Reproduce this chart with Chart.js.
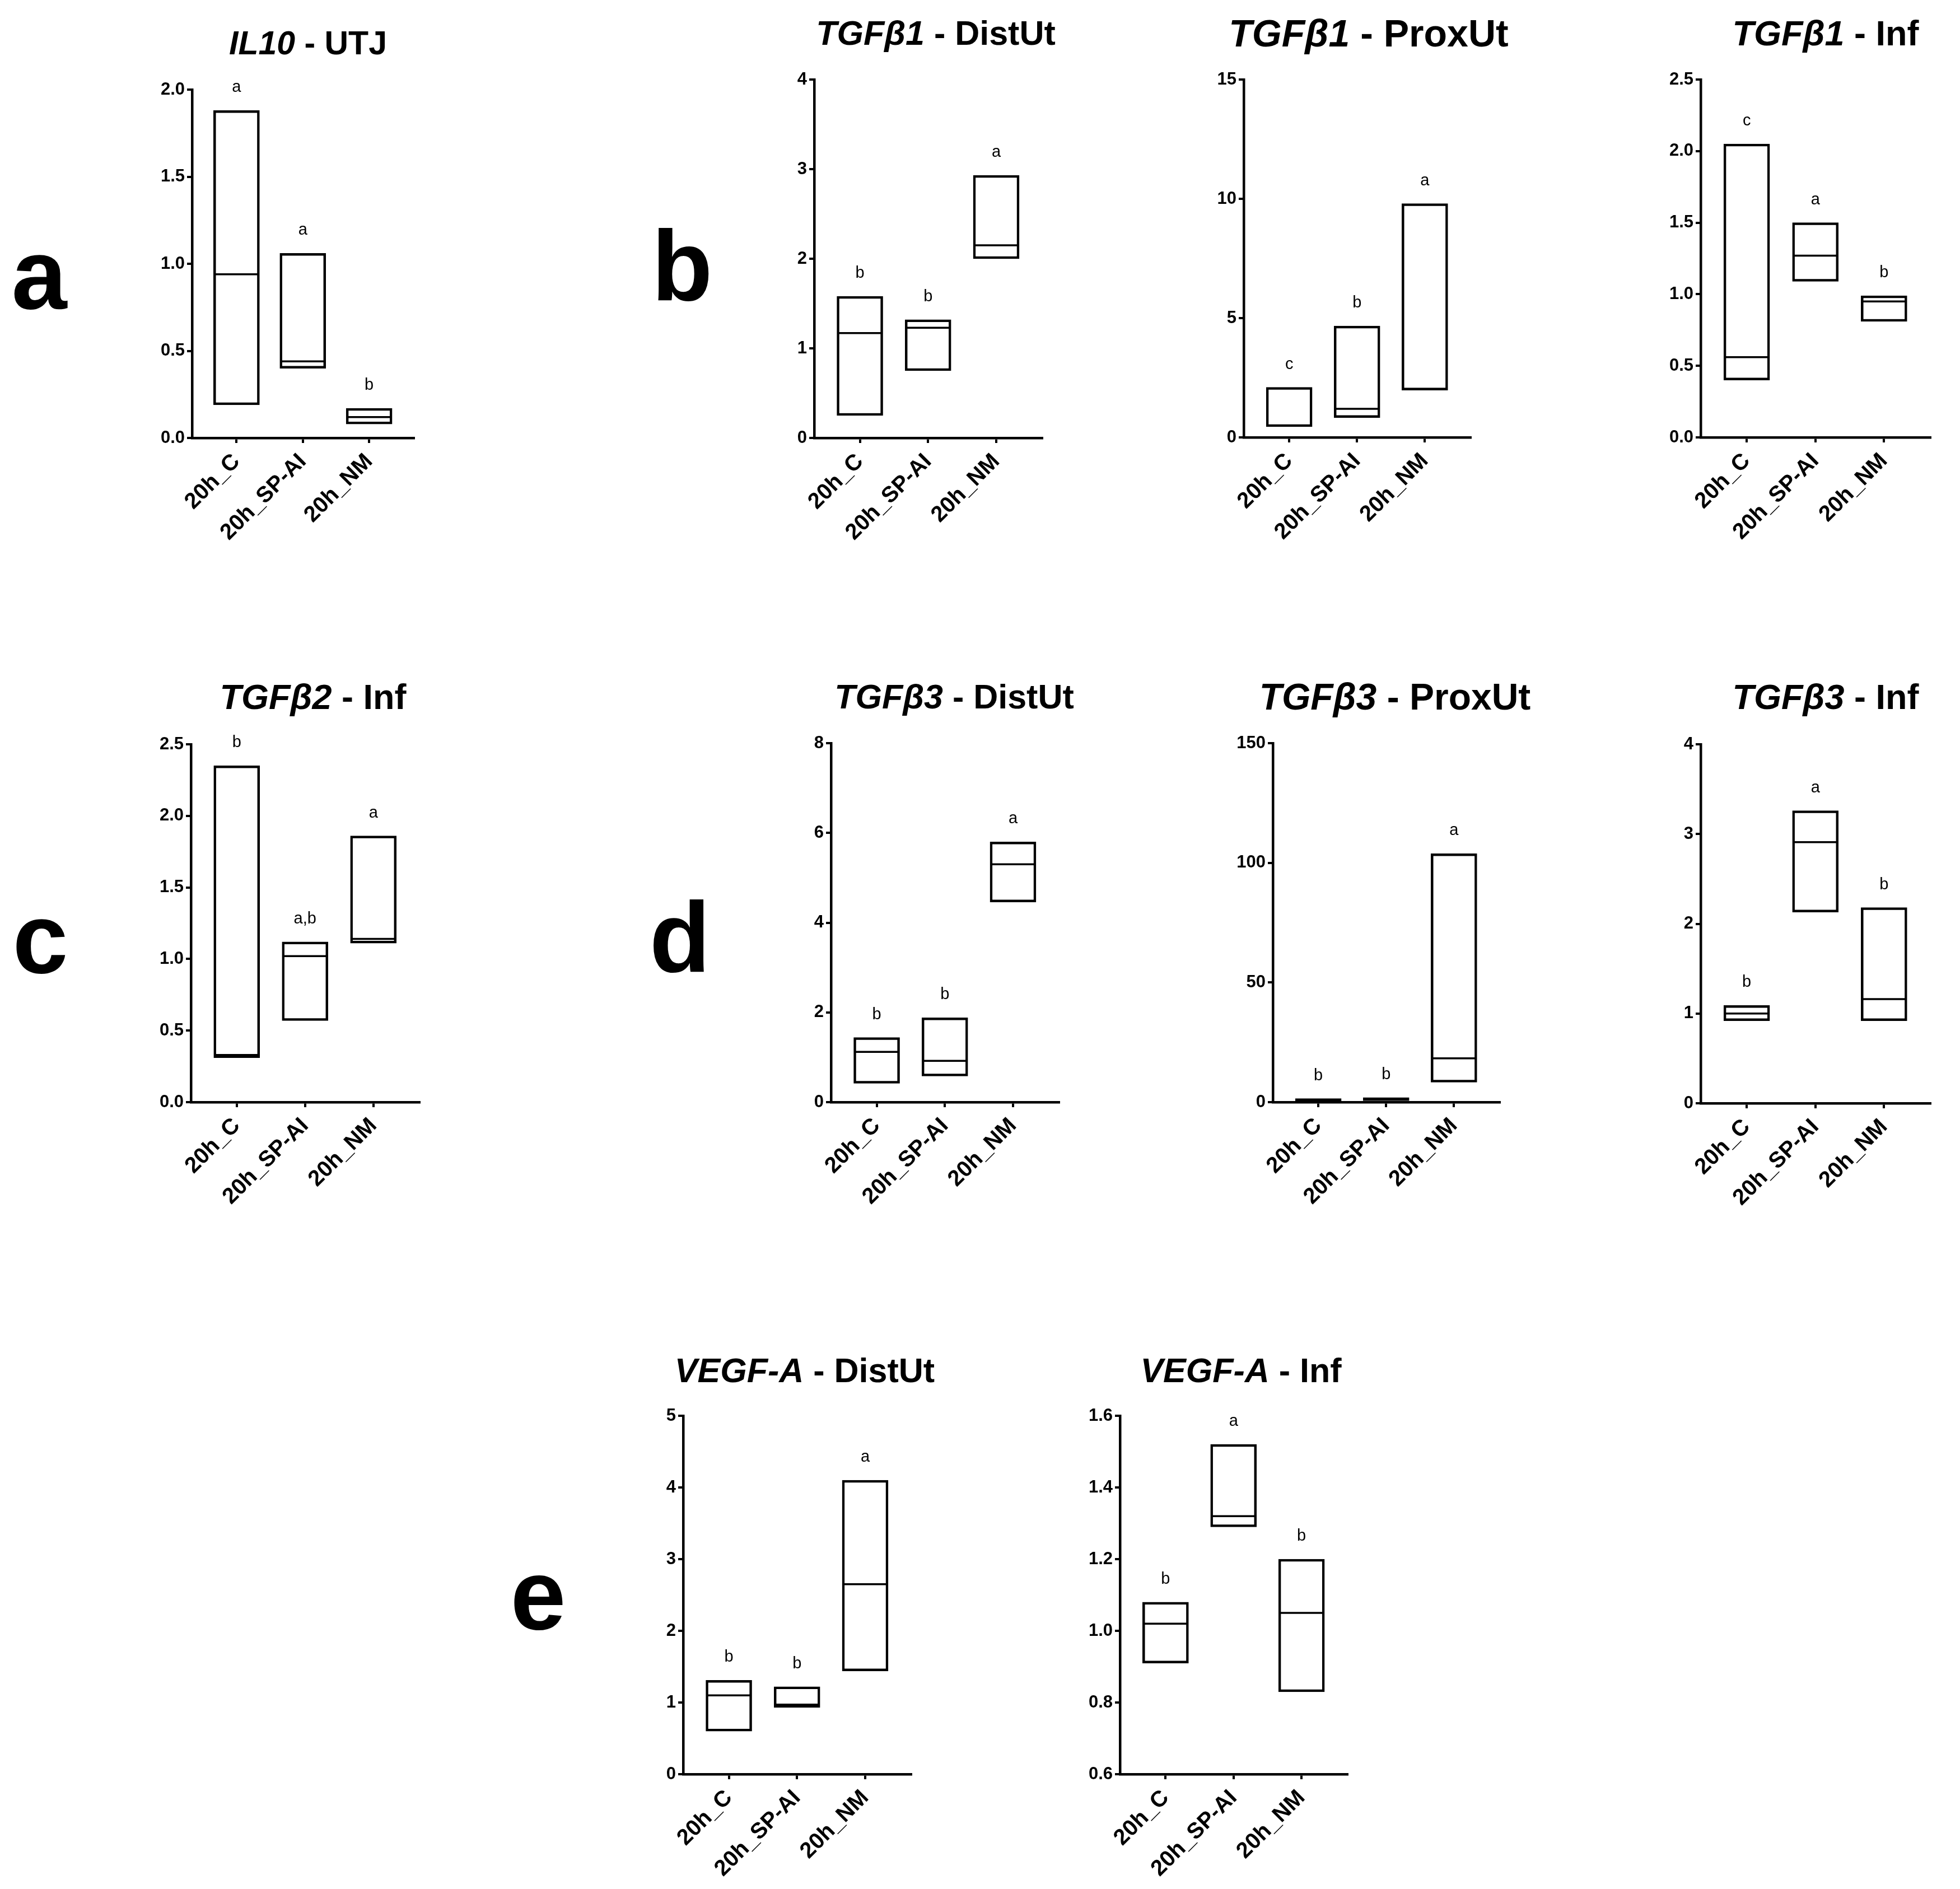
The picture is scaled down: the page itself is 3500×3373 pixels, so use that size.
<!DOCTYPE html>
<html>
<head>
<meta charset="utf-8">
<script src="https://cdn.jsdelivr.net/npm/chart.js@4.4.0/dist/chart.umd.min.js"></script>
<style>
body{margin:0;background:#fff;}
#page{position:relative;width:3500px;height:3373px;background:#fff;font-family:"Liberation Sans",Arial,sans-serif;color:#000;}
.ttl{position:absolute;font-weight:bold;line-height:1;white-space:nowrap;transform:translate(-50%,-50%);}
.lbl{position:absolute;font-weight:bold;font-size:178px;line-height:1;transform:translateX(-50%);}
canvas{position:absolute;}
</style>
</head>
<body>
<div id="page"></div>
<script>
const groups = ['20h_C', '20h_SP-AI', '20h_NM'];

// IL10 - UTJ
const il10UtjMin = [0.19, 0.40, 0.08];
const il10UtjMax = [1.88, 1.06, 0.17];
const il10UtjMed = [0.94, 0.44, 0.12];
const il10UtjLetters = ['a', 'a', 'b'];

// TGFb1 - DistUt
const tgfb1DistMin = [0.25, 0.75, 2.00];
const tgfb1DistMax = [1.58, 1.32, 2.93];
const tgfb1DistMed = [1.17, 1.23, 2.15];
const tgfb1DistLetters = ['b', 'b', 'a'];

// TGFb1 - ProxUt
const tgfb1ProxMin = [0.45, 0.83, 1.98];
const tgfb1ProxMax = [2.10, 4.67, 9.80];
const tgfb1ProxMed = [0.50, 1.20, 2.03];
const tgfb1ProxLetters = ['c', 'b', 'a'];

// TGFb1 - Inf
const tgfb1InfMin = [0.40, 1.09, 0.81];
const tgfb1InfMax = [2.05, 1.50, 0.99];
const tgfb1InfMed = [0.56, 1.27, 0.95];
const tgfb1InfLetters = ['c', 'a', 'b'];

// TGFb2 - Inf
const tgfb2InfMin = [0.31, 0.57, 1.11];
const tgfb2InfMax = [2.35, 1.12, 1.86];
const tgfb2InfMed = [0.33, 1.02, 1.14];
const tgfb2InfLetters = ['b', 'a,b', 'a'];

// TGFb3 - DistUt
const tgfb3DistMin = [0.42, 0.58, 4.46];
const tgfb3DistMax = [1.44, 1.88, 5.80];
const tgfb3DistMed = [1.12, 0.92, 5.30];
const tgfb3DistLetters = ['b', 'b', 'a'];

// TGFb3 - ProxUt
const tgfb3ProxMin = [0.4, 0.6, 8.3];
const tgfb3ProxMax = [1.5, 1.9, 103.8];
const tgfb3ProxMed = [1.0, 1.3, 18.3];
const tgfb3ProxLetters = ['b', 'b', 'a'];

// TGFb3 - Inf
const tgfb3InfMin = [0.92, 2.13, 0.92];
const tgfb3InfMax = [1.09, 3.26, 2.18];
const tgfb3InfMed = [1.00, 2.91, 1.16];
const tgfb3InfLetters = ['b', 'a', 'b'];

// VEGF-A - DistUt
const vegfDistMin = [0.60, 0.93, 1.44];
const vegfDistMax = [1.31, 1.22, 4.10];
const vegfDistMed = [1.10, 0.97, 2.65];
const vegfDistLetters = ['b', 'b', 'a'];

// VEGF-A - Inf
const vegfInfMin = [0.91, 1.29, 0.83];
const vegfInfMax = [1.08, 1.52, 1.20];
const vegfInfMed = [1.02, 1.32, 1.05];
const vegfInfLetters = ['b', 'a', 'b'];

// y axis ranges: [min, max, step, decimals]
const il10UtjAxis = [0, 2, 0.5, 1];
const tgfb1DistAxis = [0, 4, 1, 0];
const tgfb1ProxAxis = [0, 15, 5, 0];
const tgfb1InfAxis = [0, 2.5, 0.5, 1];
const tgfb2InfAxis = [0, 2.5, 0.5, 1];
const tgfb3DistAxis = [0, 8, 2, 0];
const tgfb3ProxAxis = [0, 150, 50, 0];
const tgfb3InfAxis = [0, 4, 1, 0];
const vegfDistAxis = [0, 5, 1, 0];
const vegfInfAxis = [0.6, 1.6, 0.2, 1];

// big panel letters
const panelLetters = ['a', 'b', 'c', 'd', 'e'];

const page = document.getElementById('page');

// plot boxes are [left, top, right, bottom] of the plot area in page pixels
let panels = [
    {gene:'IL10', tissue:'UTJ', min:il10UtjMin, max:il10UtjMax, med:il10UtjMed, letters:il10UtjLetters, axis:il10UtjAxis, box:[343,160,760,782], title:[550,77,59]},
    {gene:'TGF&beta;1', tissue:'DistUt', min:tgfb1DistMin, max:tgfb1DistMax, med:tgfb1DistMed, letters:tgfb1DistLetters, axis:tgfb1DistAxis, box:[1454,142,1882,782], title:[1671,59,61]},
    {gene:'TGF&beta;1', tissue:'ProxUt', min:tgfb1ProxMin, max:tgfb1ProxMax, med:tgfb1ProxMed, letters:tgfb1ProxLetters, axis:tgfb1ProxAxis, box:[2221,142,2647,781], title:[2444,59,68]},
    {gene:'TGF&beta;1', tissue:'Inf', min:tgfb1InfMin, max:tgfb1InfMax, med:tgfb1InfMed, letters:tgfb1InfLetters, axis:tgfb1InfAxis, box:[3037,142,3468,781], title:[3260,59,63]},
    {gene:'TGF&beta;2', tissue:'Inf', min:tgfb2InfMin, max:tgfb2InfMax, med:tgfb2InfMed, letters:tgfb2InfLetters, axis:tgfb2InfAxis, box:[341,1329,770,1968], title:[559,1244,63]},
    {gene:'TGF&beta;3', tissue:'DistUt', min:tgfb3DistMin, max:tgfb3DistMax, med:tgfb3DistMed, letters:tgfb3DistLetters, axis:tgfb3DistAxis, box:[1484,1327,1912,1968], title:[1704,1244,61]},
    {gene:'TGF&beta;3', tissue:'ProxUt', min:tgfb3ProxMin, max:tgfb3ProxMax, med:tgfb3ProxMed, letters:tgfb3ProxLetters, axis:tgfb3ProxAxis, box:[2273,1327,2699,1968], title:[2491,1244,66]},
    {gene:'TGF&beta;3', tissue:'Inf', min:tgfb3InfMin, max:tgfb3InfMax, med:tgfb3InfMed, letters:tgfb3InfLetters, axis:tgfb3InfAxis, box:[3037,1329,3468,1970], title:[3260,1244,63]},
    {gene:'VEGF-A', tissue:'DistUt', min:vegfDistMin, max:vegfDistMax, med:vegfDistMed, letters:vegfDistLetters, axis:vegfDistAxis, box:[1220,2528,1648,3168], title:[1437,2447,61]},
    {gene:'VEGF-A', tissue:'Inf', min:vegfInfMin, max:vegfInfMax, med:vegfInfMed, letters:vegfInfLetters, axis:vegfInfAxis, box:[2000,2528,2427,3168], title:[2216,2447,61]}
];

// [center x, baseline y] of the big letters
let letterPos = [[70,552], [1218,537], [72,1738], [1214,1736], [961,2910]];

Chart.defaults.font.family = '"Liberation Sans", Arial, sans-serif';
Chart.defaults.color = '#000';

//writes the significance letters above each box
const lettersPlugin = {
    id: 'sigLetters',
    afterDatasetsDraw(chart, args, opts){
        let ctx = chart.ctx;
        let xs = chart.scales.x, ys = chart.scales.y;
        ctx.save();
        ctx.font = '29px "Liberation Sans", Arial, sans-serif';
        ctx.fillStyle = '#000';
        ctx.textAlign = 'center';
        ctx.textBaseline = 'alphabetic';
        opts.letters.forEach((t, i) => {
            ctx.fillText(t, xs.getPixelForValue(i), ys.getPixelForValue(opts.tops[i]) - 33);
        });
        ctx.restore();
    }
};

let drawPanel = function(p){
    const [left, top, right, bottom] = p.box;
    const yW = 150, xH = 280, padTop = 60, padRight = 20;

    let cv = document.createElement('canvas');
    cv.width = right - left + yW + padRight;
    cv.height = bottom - top + padTop + xH;
    cv.style.left = (left - yW) + 'px';
    cv.style.top = (top - padTop) + 'px';
    cv.style.width = cv.width + 'px';
    cv.style.height = cv.height + 'px';
    page.appendChild(cv);

    let t = document.createElement('div');
    t.className = 'ttl';
    t.style.left = p.title[0] + 'px';
    t.style.top = p.title[1] + 'px';
    t.style.fontSize = p.title[2] + 'px';
    t.innerHTML = '<i>' + p.gene + '</i> - ' + p.tissue;
    page.appendChild(t);

    const [yMin, yMax, yStep, dec] = p.axis;
    const gridOpts = {drawOnChartArea: false, drawTicks: true, tickLength: 9, tickWidth: 4, tickColor: '#000', color: '#000', lineWidth: 4, offset: false};
    const borderOpts = {display: true, color: '#000', width: 4.5};

    const config = {
        type: 'bar',
        data: {
            datasets: [
            {
                type: 'bar',
                data: p.min.map((v, i) => ({x: i, y: [v, p.max[i]]})),
                backgroundColor: '#fff',
                borderColor: '#000',
                borderWidth: 4.5,
                borderSkipped: false,
                barThickness: 82,
                order: 1
            },
            {
                type: 'line',
                data: p.med.map((v, i) => ({x: i, y: v})),
                showLine: false,
                pointStyle: 'line',
                pointRadius: 38,
                pointHoverRadius: 38,
                pointBorderWidth: 3.5,
                pointBorderColor: '#000',
                borderColor: '#000',
                order: 0
            }]
        },
        options: {
            responsive: false,
            devicePixelRatio: 1,
            animation: false,
            events: [],
            layout: {padding: {top: padTop, right: padRight, left: 0, bottom: 0}},
            plugins: {
                legend: {display: false},
                tooltip: {enabled: false},
                sigLetters: {letters: p.letters, tops: p.max}
            },
            scales: {
                x: {
                    type: 'linear',
                    min: -0.67,
                    max: 2.67,
                    offset: false,
                    grid: gridOpts,
                    border: borderOpts,
                    afterBuildTicks: s => { s.ticks = groups.map((g, i) => ({value: i})) },
                    afterFit: s => { s.height = xH },
                    ticks: {
                        autoSkip: false,
                        minRotation: 45,
                        maxRotation: 45,
                        padding: 10,
                        color: '#000',
                        font: {size: 40, weight: 'bold'},
                        callback: v => groups[v]
                    }
                },
                y: {
                    min: yMin,
                    max: yMax,
                    grid: gridOpts,
                    border: borderOpts,
                    afterFit: s => { s.width = yW },
                    ticks: {
                        stepSize: yStep,
                        padding: 4,
                        color: '#000',
                        font: {size: 31, weight: 'bold'},
                        callback: v => Number(v).toFixed(dec)
                    }
                }
            }
        },
        plugins: [lettersPlugin]
    };

    new Chart(cv, config);
}

panels.forEach(p => drawPanel(p));

panelLetters.forEach((l, i) => {
    let d = document.createElement('div');
    d.className = 'lbl';
    d.textContent = l;
    d.style.left = letterPos[i][0] + 'px';
    d.style.top = (letterPos[i][1] - 151) + 'px';
    page.appendChild(d);
});
</script>
</body>
</html>
